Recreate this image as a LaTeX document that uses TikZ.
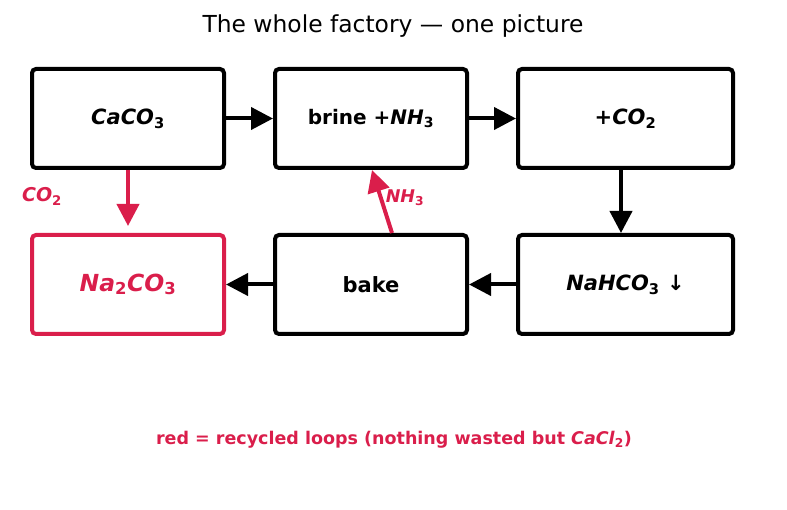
\documentclass[tikz,border=0pt]{standalone}
\usepackage{fontspec}
\setmainfont{DejaVu Sans}
\usetikzlibrary{arrows.meta}
\definecolor{loopred}{RGB}{218,30,75}
\newcommand{\ch}[2]{\textit{#1}\textsubscript{#2}}

\begin{document}
\begin{tikzpicture}[
    x=1pt, y=-1pt,
    >={Triangle[length=22pt,width=22pt]},
    box/.style={
        draw,
        line width=4pt,
        rounded corners=4pt,
        minimum width=192pt,
        minimum height=99pt,
        align=center,
        font=\fontsize{21}{25}\selectfont\bfseries
    },
    wide/.style={minimum width=215pt},
    arr/.style={->, line width=4pt},
    redarr/.style={->, line width=4pt, draw=loopred, fill=loopred}
]
    \useasboundingbox (0,0) rectangle (787,510);

    \node[font=\fontsize{23.4}{28}\selectfont] (title) at (393,26)
        {The whole factory — one picture};

    \node[box] (caco) at (128,118.5) {\ch{CaCO}{3}};
    \node[box] (brine) at (371,118.5)
        {\fontsize{20}{24}\selectfont brine \textit{+NH}\textsubscript{3}};
    \node[box, wide] (co2) at (625.5,118.5) {\textit{+CO}\textsubscript{2}};
    \node[box, draw=loopred, text=loopred,
        font=\fontsize{23.5}{28}\selectfont\bfseries] (soda) at (128,284.5)
        {\ch{Na}{2}\ch{CO}{3}};
    \node[box] (bake) at (371,284.5) {bake};
    \node[box, wide] (bicarb) at (625.5,284.5) {\ch{NaHCO}{3} ↓};

    \draw[arr] (caco) -- (brine);
    \draw[arr] (brine) -- (co2);
    \draw[arr] ([xshift=-4.5pt]co2.south) -- ([xshift=-4.5pt]bicarb.north);
    \draw[arr] (bicarb) -- (bake);
    \draw[arr] (bake) -- (soda);

    % recycled loops
    \coordinate (co2tip) at (128,226);
    \draw[redarr] (caco.south) -- (co2tip);
    \draw[redarr] ([xshift=21pt]bake.north) -- ([xshift=1pt]brine.south);

    \node[text=loopred, font=\fontsize{19}{23}\selectfont\bfseries] (lco2)
        at (42,196) {\textit{CO}\textsubscript{2}};
    \node[text=loopred, font=\fontsize{17.5}{21}\selectfont\bfseries] (lnh3)
        at (405,198) {\textit{NH}\textsubscript{3}};

    \node[text=loopred, font=\fontsize{17.5}{21}\selectfont\bfseries] (note)
        at (394,440)
        {red = recycled loops (nothing wasted but \ch{CaCl}{2})};
\end{tikzpicture}
\end{document}
